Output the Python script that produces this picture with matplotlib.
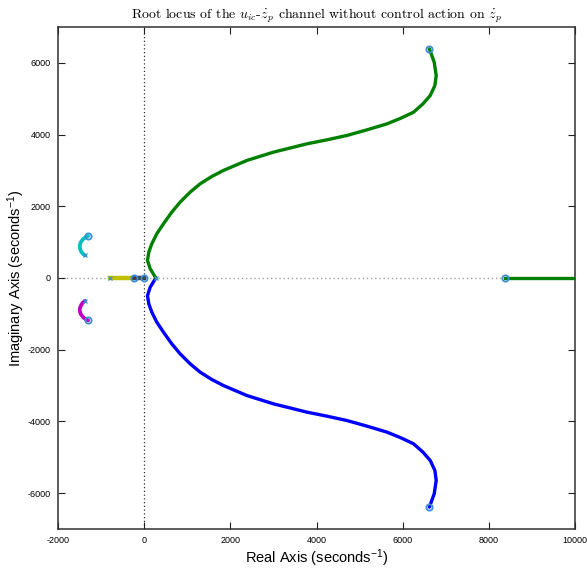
import matplotlib
matplotlib.use("Agg")
import matplotlib.pyplot as plt

plt.rcParams['mathtext.fontset'] = 'cm'
plt.rcParams['mathtext.rm'] = 'Liberation Sans'
plt.rcParams['mathtext.it'] = 'Liberation Sans:italic'
plt.rcParams['mathtext.bf'] = 'Liberation Sans:bold'
plt.rcParams['mathtext.sf'] = 'Liberation Sans'

# Upper complex branch (green) and its conjugate (blue)
green_re = [6620, 6732, 6778, 6747, 6639, 6469, 6252, 5958, 5633, 5169, 4705, 4240,
            3776, 3002, 2384, 1841, 1571, 1300, 1068, 836, 642, 449, 294, 178, 108,
            77, 139, 270]
green_im = [6390, 6017, 5646, 5367, 5089, 4855, 4624, 4457, 4298, 4131, 3975, 3853,
            3741, 3510, 3278, 3000, 2832, 2627, 2395, 2117, 1838, 1513, 1234, 955, 724,
            493, 259, 0]
blue_re = [6620, 6732, 6778, 6747, 6639, 6469, 6252, 5958, 5633, 5169, 4705, 4240,
           3776, 3002, 2384, 1841, 1571, 1300, 1068, 836, 642, 449, 294, 178, 108,
           77, 139, 270]
blue_im = [-6390, -6017, -5646, -5367, -5089, -4855, -4624, -4457, -4298, -4131, -3975,
           -3853, -3741, -3510, -3278, -3000, -2832, -2627, -2395, -2117, -1838, -1513,
           -1234, -955, -724, -493, -259, 0]

# Real-axis branch towards +infinity
right_re = [8380, 10500]
right_im = [0, 0]

# Small complex pair on the left half-plane
cyan_re = [-1300, -1360, -1420, -1470, -1495, -1490, -1460, -1420, -1370]
cyan_im = [1170, 1140, 1080, 1000, 910, 820, 730, 670, 630]
magenta_re = [-1300, -1360, -1420, -1470, -1495, -1490, -1460, -1420, -1370]
magenta_im = [-1180, -1150, -1090, -1010, -920, -830, -750, -680, -640]

# Real-axis branches near the origin
yellow_re = [-790, -210]
yellow_im = [0, 0]
gray_re = [-230, 0]
gray_im = [0, 0]

# Open-loop poles (circles) and zeros (crosses)
pole_re = [6620, 6620, 8380, 0, -1300, -1300, -230]
pole_im = [6390, -6390, 0, 0, 1170, -1180, 0]
zero_re = [270, -790, -1370, -1370]
zero_im = [0, 0, 630, -640]

xticks = [-2000, 0, 2000, 4000, 6000, 8000, 10000]
yticks = [-6000, -4000, -2000, 0, 2000, 4000, 6000]

fig = plt.figure(figsize=(5.87, 5.72), dpi=100)
ax = fig.add_axes([0.0988, 0.0752, 0.8808, 0.8776])

ax.axhline(0, color='#a0a0a0', ls=(0, (1, 2)), lw=1.0, zorder=1)
ax.axvline(0, color='#303030', ls=(0, (1, 2)), lw=0.9, zorder=1)

lw = 2.4
ax.plot(blue_re, blue_im, color=(0, 0, 1), lw=lw, zorder=3, solid_capstyle='round')
ax.plot(green_re, green_im, color=(0, 0.5, 0), lw=lw, zorder=3, solid_capstyle='round')
ax.plot(right_re, right_im, color=(0, 0.5, 0), lw=lw, zorder=3)
ax.plot(cyan_re, cyan_im, color=(0, 0.75, 0.75), lw=lw + 0.3, zorder=3, solid_capstyle='round')
ax.plot(magenta_re, magenta_im, color=(0.75, 0, 0.75), lw=lw + 0.3, zorder=3, solid_capstyle='round')
ax.plot(yellow_re, yellow_im, color=(0.75, 0.75, 0), lw=lw + 0.8, zorder=3)
ax.plot(gray_re, gray_im, color=(0.25, 0.25, 0.25), lw=lw + 0.8, zorder=3)

mk = '#3d8ed6'
ax.plot(pole_re, pole_im, ls='none', marker='o', ms=4.5, mfc='none', mec=mk, mew=1.3, zorder=4)
ax.plot(zero_re, zero_im, ls='none', marker='x', ms=3.5, mec=mk, mew=0.9, zorder=4)

ax.set_xlim(-2000, 10000)
ax.set_ylim(-7000, 7000)
ax.set_xticks(xticks)
ax.set_yticks(yticks)
ax.set_xticklabels([str(t) for t in xticks], family='Liberation Sans', fontsize=6.5)
ax.set_yticklabels([str(t) for t in yticks], family='Liberation Sans', fontsize=6.5)
ax.tick_params(direction='in', length=5, width=0.8, top=True, right=True,
               color='#202020', pad=5)
for s in ax.spines.values():
    s.set_color('#303030')
    s.set_linewidth(1.1)

ax.set_xlabel('Real Axis (seconds$^{\\mathrm{-1}}$)', family='Liberation Sans', fontsize=10.5,
              math_fontfamily='custom')
ax.set_ylabel('Imaginary Axis (seconds$^{\\mathrm{-1}}$)', family='Liberation Sans', fontsize=10.5,
              math_fontfamily='custom')
ax.xaxis.set_label_coords(0.5, -0.058, transform=ax.transAxes)
ax.yaxis.set_label_coords(-0.08, 0.5, transform=ax.transAxes)
ax.xaxis.label.set_va('center')
ax.yaxis.label.set_va('center')
ax.set_title('Root locus of the $u_{ic}$-$\\dot{z}_p$ channel without control action on $\\dot{z}_p$',
             family='cmr10', fontsize=10, pad=6, math_fontfamily='cm')

fig.savefig('out.png', dpi=100)
